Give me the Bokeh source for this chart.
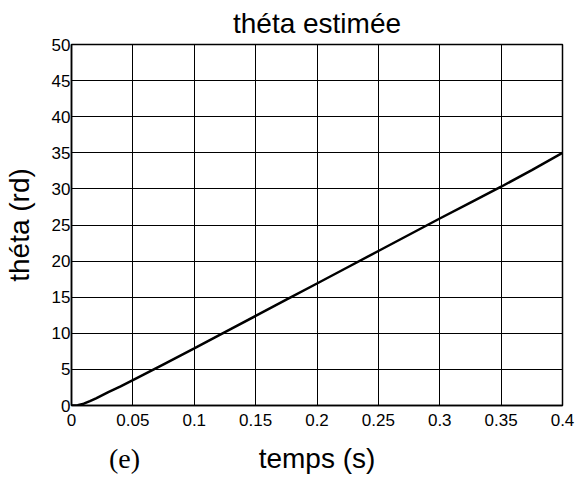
from bokeh.plotting import figure
from bokeh.layouts import column
from bokeh.embed import file_html
from bokeh.resources import INLINE
from bokeh.models import FixedTicker, Range1d
from bokeh.core.properties import value

# data
t = [0.0, 0.005, 0.01, 0.015, 0.02, 0.03, 0.04, 0.05, 0.075, 0.1, 0.125, 0.15, 0.175,
     0.2, 0.225, 0.25, 0.275, 0.3, 0.325, 0.35, 0.375, 0.4]
theta = [0.0, 0.05, 0.25, 0.6, 1.0, 1.85, 2.65, 3.5, 5.7, 7.9, 10.15, 12.4, 14.65,
         16.9, 19.15, 21.4, 23.65, 25.9, 28.1, 30.3, 32.6, 35.0]
x_ticks = [0, 0.05, 0.1, 0.15, 0.2, 0.25, 0.3, 0.35, 0.4]
x_tick_labels = ["0", "0.05", "0.1", "0.15", "0.2", "0.25", "0.3", "0.35", "0.4"]
y_ticks = [0, 5, 10, 15, 20, 25, 30, 35, 40, 45, 50]
title_text = "théta estimée"
x_label = "temps (s)"
y_label = "théta (rd)"
panel_tag = "(e)"

FONT = "Liberation Sans"

p = figure(width=580, height=440, output_backend="svg", toolbar_location=None,
           x_range=Range1d(0, 0.4), y_range=Range1d(0, 50),
           min_border_left=71, min_border_right=18, min_border_top=44, min_border_bottom=35,
           title=title_text)
p.title.align = "center"
p.title.text_font = FONT
p.title.text_font_size = "28px"
p.title.text_font_style = "normal"
p.title.text_color = "black"
p.title.standoff = 11

p.line(t, theta, line_color="black", line_width=2.5)

p.xaxis.ticker = FixedTicker(ticks=x_ticks)
p.xaxis.major_label_overrides = {v: s for v, s in zip(x_ticks, x_tick_labels)}
p.yaxis.ticker = FixedTicker(ticks=y_ticks)

for ax in (p.xaxis[0], p.yaxis[0]):
    ax.axis_line_color = "black"
    ax.axis_line_width = 1.5
    ax.major_tick_in = 4
    ax.major_tick_out = 0
    ax.major_tick_line_color = "black"
    ax.minor_tick_line_color = None
    ax.major_label_text_font = FONT
    ax.major_label_text_font_size = "17px"
    ax.major_label_text_color = "black"
    ax.axis_label_text_font = FONT
    ax.axis_label_text_font_size = "28px"
    ax.axis_label_text_font_style = "normal"
    ax.axis_label_text_color = "black"

p.yaxis.axis_label = y_label
p.xaxis.major_label_standoff = 8
p.yaxis.major_label_standoff = 1
p.yaxis.axis_label_standoff = 14

p.grid.grid_line_color = "black"
p.grid.grid_line_width = 1
p.grid.grid_line_alpha = 1.0

p.outline_line_color = "black"
p.outline_line_width = 1.5
p.outline_line_alpha = 1.0
p.background_fill_color = "white"
p.border_fill_color = "white"

# strip below the plot carrying the x-axis caption and the panel tag,
# sharing the plot's x scale
p2 = figure(width=580, height=41, output_backend="svg", toolbar_location=None,
            x_range=p.x_range, y_range=Range1d(0, 41),
            x_axis_location=None, y_axis_location=None,
            min_border_left=71, min_border_right=18, min_border_top=0, min_border_bottom=0)
p2.grid.visible = False
p2.outline_line_color = None
p2.background_fill_color = "white"
p2.border_fill_color = "white"

p2.text(x=[0.2], y=[23], text=[x_label], text_font=value(FONT), text_font_size="28px",
        text_color="black", text_align="center", text_baseline="alphabetic")
p2.text(x=[0.0432], y=[23], text=[panel_tag], text_font=value("Liberation Serif"),
        text_font_size="28px", text_color="black", text_align="center",
        text_baseline="alphabetic")

layout = column(p, p2, spacing=0)
open("out.html", "w").write(file_html(layout, INLINE))
